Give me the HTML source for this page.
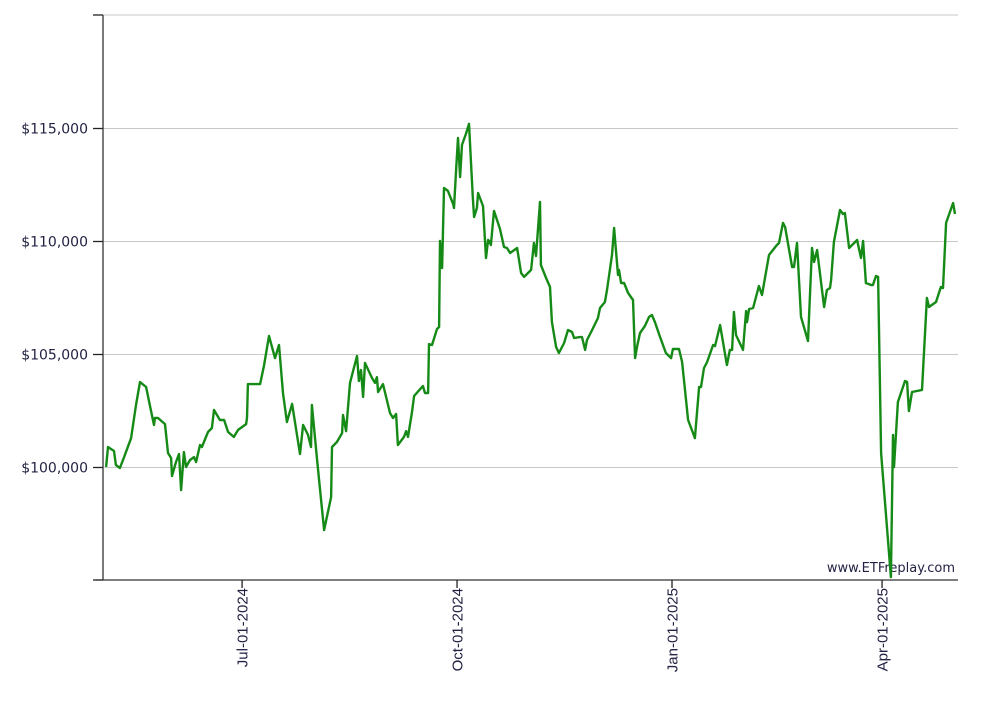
<!DOCTYPE html>
<html><head><meta charset="utf-8"><style>
html,body{margin:0;padding:0;background:#fff;width:1001px;height:704px;overflow:hidden}
svg{display:block}
</style></head><body>
<svg id="chart" width="1001" height="704" viewBox="0 0 1001 704" xmlns="http://www.w3.org/2000/svg">
<g id="grid"></g>
<text x="955" y="572" text-anchor="end" font-family="DejaVu Sans, Verdana, sans-serif" font-size="13" fill="#222244">www.ETFreplay.com</text>
<g id="axes"></g>
<path id="line" fill="none" stroke="#168a16" stroke-width="2.4" stroke-linejoin="round"></path>
</svg>
<script>
// day offsets from 2024-05-03
const days = [0.9,1.7,4.3,5.1,6.8,8.6,11.6,13.7,15.4,18.0,19.7,21.4,21.8,23.1,26.1,27.4,28.7,29.1,30.8,32.1,33.0,34.2,35.1,36.8,38.5,39.4,41.1,41.9,44.5,46.2,47.1,49.6,51.4,53.1,55.6,57.4,60.8,61.2,61.6,66.8,68.5,70.6,73.2,74.9,76.6,78.3,80.5,83.9,85.2,87.3,88.6,89.0,91.2,94.2,97.2,97.6,99.7,101.9,102.3,103.6,105.3,108.3,109.1,110.0,110.9,111.7,114.7,116.0,116.8,117.3,119.4,122.4,123.7,125.0,125.8,128.4,129.3,130.1,131.8,132.7,136.5,137.4,138.7,139.1,140.4,142.5,143.4,143.8,144.7,145.5,147.2,149.4,149.8,150.7,151.5,152.4,153.2,154.9,156.2,157.9,158.4,159.6,160.1,162.2,163.5,164.4,164.8,165.6,166.9,169.5,171.2,172.5,173.8,176.8,178.5,179.8,182.8,184.0,184.9,186.6,187.0,189.2,190.9,191.7,193.5,194.7,196.9,198.6,200.3,201.2,203.7,204.6,205.9,206.7,208.9,211.4,212.3,214.4,215.3,217.4,218.3,220.0,220.4,221.3,222.6,224.3,226.4,227.3,228.1,229.4,231.5,233.3,234.5,235.8,238.0,240.5,242.7,243.5,246.1,247.4,250.0,252.9,254.7,255.5,256.8,258.1,260.7,261.5,263.7,266.6,267.9,268.8,269.6,270.5,273.5,274.8,275.2,276.1,277.8,280.3,281.6,282.5,284.6,288.0,288.9,290.6,291.5,294.5,295.3,296.6,298.3,301.3,303.0,303.9,305.2,308.2,309.4,310.7,311.2,312.4,315.0,316.3,317.1,318.9,322.3,324.0,324.9,326.1,328.3,329.1,330.4,331.3,332.6,336.8,337.7,338.1,339.8,342.8,343.7,344.5,345.8,350.1,352.2,353.1,356.1,358.2,359.1,360.4,363.4,364.2];
const values = [100000,100885,100710,100090,99955,100440,101280,102745,103760,103540,102700,101860,102170,102170,101900,100620,100400,99600,100220,100575,98980,100660,100000,100310,100440,100220,100975,100885,101550,101725,102520,102080,102080,101550,101330,101640,101900,102170,103670,103670,104510,105800,104820,105400,103270,101990,102790,100575,101860,101420,100885,102745,100310,97210,98670,100885,101105,101500,102300,101590,103720,104910,103805,104290,103100,104600,103940,103720,103980,103320,103670,102390,102170,102345,100975,101330,101590,101330,102435,103140,103585,103275,103275,105440,105400,106105,106195,110000,108805,112345,112215,111640,111460,113140,114560,112830,114250,114735,115180,111860,111060,111460,112125,111550,109250,110045,110000,109825,111330,110530,109735,109690,109470,109690,108585,108410,108720,109910,109335,111725,108940,108365,107965,106415,105310,105045,105485,106060,105975,105710,105750,105750,105180,105620,106060,106590,107035,107300,107830,109380,110575,108500,108720,108140,108140,107700,107390,104820,105310,105930,106240,106640,106725,106415,105750,105045,104820,105220,105220,104645,102080,101280,103540,103540,104380,104645,105400,105350,106285,104510,105180,105180,106860,105840,105180,106900,106415,106990,107035,108010,107610,108140,109380,109825,109910,110800,110620,108850,108850,109910,106640,105575,109690,109070,109600,107080,107830,107920,108275,109955,111370,111195,111240,109690,110045,109250,110000,108140,108055,108055,108450,108410,100620,95130,101415,100000,102875,103805,103760,102480,103320,103410,107480,107080,107300,107965,107920,110800,111680,111195];
const yTicks = [100000,105000,110000,115000];
const yTickLabels = ["$100,000","$105,000","$110,000","$115,000"];
const xTickDays = [59.1,151.1,243.1,333.0];
const xTickLabels = ["Jul-01-2024","Oct-01-2024","Jan-01-2025","Apr-01-2025"];

const NS="http://www.w3.org/2000/svg";
const X0=104, PXD=2.3365, Y0=580, YMIN=95000, YMAX=120000, YTOP=15;
function xs(d){return X0+d*PXD;}
function ys(v){return Y0-(v-YMIN)/(YMAX-YMIN)*(Y0-YTOP);}
const grid=document.getElementById('grid'), axes=document.getElementById('axes');
function mk(tag,attrs,parent){const e=document.createElementNS(NS,tag);for(const k in attrs)e.setAttribute(k,attrs[k]);parent.appendChild(e);return e;}

const topLine=mk('line',{x1:103,x2:958,y1:YTOP,y2:YTOP,stroke:'#c8c8c8','stroke-width':1},grid);


yTicks.forEach((v,i)=>{
  const y=Math.round(ys(v))+0.5;
  const g=mk('line',{x1:103,x2:958,y1:y,y2:y,stroke:'#c8c8c8','stroke-width':1},grid);
  
  
  const t=mk('line',{x1:93,x2:103,y1:y,y2:y,stroke:'#222','stroke-width':1.3},axes);
  
  
  const l=mk('text',{x:88,y:y+5,'text-anchor':'end','font-family':'DejaVu Sans, Verdana, sans-serif','font-size':'14',fill:'#222244'},axes);
  l.textContent=yTickLabels[i];
  
  
});
[YTOP,Y0].forEach(y=>{
  const t=mk('line',{x1:93,x2:103,y1:y,y2:y,stroke:'#222','stroke-width':1.3},axes);
  
  
});
const ya=mk('line',{x1:103,x2:103,y1:YTOP,y2:Y0,stroke:'#333','stroke-width':1.3},axes);


const xa=mk('line',{x1:96,x2:958,y1:Y0,y2:Y0,stroke:'#333','stroke-width':1.3},axes);


xTickDays.forEach((d,i)=>{
  const x=xs(d);
  const t=mk('line',{x1:x,x2:x,y1:Y0,y2:Y0+8,stroke:'#222','stroke-width':1.3},axes);
  
  
  const l=mk('text',{x:0,y:0,'text-anchor':'end','font-family':'Liberation Sans, Arial, sans-serif','font-size':'15',fill:'#222244',transform:`translate(${x+5.5},588) rotate(-90)`},axes);
  l.textContent=xTickLabels[i];
  
  
});
let d='';
days.forEach((dd,i)=>{d+=(i?'L':'M')+xs(dd).toFixed(1)+','+ys(values[i]).toFixed(1);});
document.getElementById('line').setAttribute('d',d);
</script>
</body></html>
